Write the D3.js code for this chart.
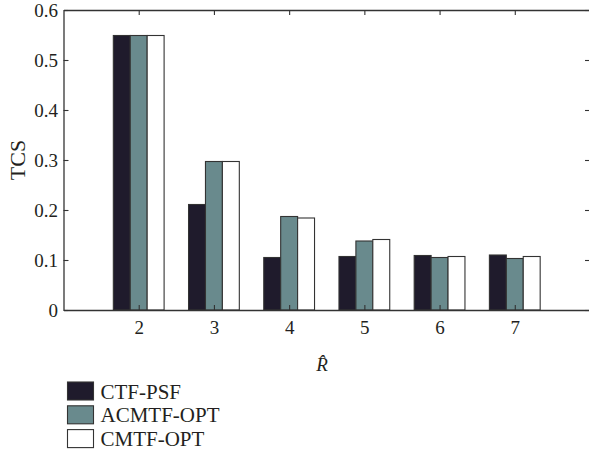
<!DOCTYPE html>
<html>
<head>
<meta charset="utf-8">
<script src="https://cdn.jsdelivr.net/npm/d3@7"></script>
<style>
  html, body { margin: 0; padding: 0; background: #fff; }
  svg { display: block; }
</style>
</head>
<body>
<svg id="chart" width="589" height="452"></svg>
<script>
// Rank values on the x axis
const ranks = [2, 3, 4, 5, 6, 7];
// TCS per method, one value per rank
const seriesNames = ["CTF-PSF", "ACMTF-OPT", "CMTF-OPT"];
const ctfPsf   = [0.549, 0.211, 0.105, 0.107, 0.109, 0.110];
const acmtfOpt = [0.549, 0.297, 0.187, 0.138, 0.105, 0.103];
const cmtfOpt  = [0.549, 0.297, 0.184, 0.141, 0.107, 0.107];
const seriesColors = ["#1f1b2c", "#698a8d", "#ffffff"];
const yTicks = [0, 0.1, 0.2, 0.3, 0.4, 0.5, 0.6];

const series = [ctfPsf, acmtfOpt, cmtfOpt];
const FONT = "'Liberation Serif', 'Times New Roman', Times, serif";
const INK = "#231f20";

const svg = d3.select("#chart");
const plotLeft = 63.5, plotRight = 590, plotTop = 10, plotBottom = 310;

const x = d3.scaleLinear().domain([1, 8]).range([plotLeft, plotRight]);
const y = d3.scaleLinear().domain([0, 0.6]).range([plotBottom, plotTop]);

const barW = 0.225;          // bar width in rank units
const groupStart = -1.5 * barW;

// Bars
series.forEach((vals, si) => {
  svg.append("g")
    .selectAll("rect")
    .data(ranks.map((r, i) => ({ r, v: vals[i] })))
    .join("rect")
    .attr("x", d => x(d.r + groupStart + si * barW))
    .attr("width", x(1 + barW) - x(1))
    .attr("y", d => y(d.v))
    .attr("height", d => y(0) - y(d.v))
    .attr("fill", seriesColors[si])
    .attr("stroke", "#333")
    .attr("stroke-width", 1.1);
});

// Box axes with inward ticks
const tickLen = 5;
const axisStyle = g => {
  g.attr("font-family", FONT);
  g.select(".domain").attr("stroke", "#333").attr("stroke-width", 1.3);
  g.selectAll(".tick line").attr("stroke", "#333").attr("stroke-width", 1.1);
  g.selectAll(".tick text").attr("font-size", 19).attr("font-family", FONT).attr("fill", INK);
};

svg.append("g")
  .attr("transform", `translate(0,${plotBottom})`)
  .call(d3.axisBottom(x).tickValues(ranks).tickFormat(d3.format("d"))
    .tickSizeInner(-tickLen).tickSizeOuter(0).tickPadding(10.5))
  .call(axisStyle);

svg.append("g")
  .attr("transform", `translate(0,${plotTop})`)
  .call(d3.axisTop(x).tickValues(ranks).tickFormat("")
    .tickSizeInner(-tickLen).tickSizeOuter(0))
  .call(axisStyle);

svg.append("g")
  .attr("transform", `translate(${plotLeft},0)`)
  .call(d3.axisLeft(y).tickValues(yTicks).tickFormat(d => d === 0 ? "0" : d3.format(".1f")(d))
    .tickSizeInner(-tickLen).tickSizeOuter(0).tickPadding(5.5))
  .call(axisStyle);

svg.append("g")
  .attr("transform", `translate(${plotRight},0)`)
  .call(d3.axisRight(y).tickValues(yTicks).tickFormat("")
    .tickSizeInner(-tickLen).tickSizeOuter(0))
  .call(axisStyle);

// Axis titles
svg.append("text")
  .attr("transform", `translate(25,${(plotTop + plotBottom) / 2}) rotate(-90)`)
  .attr("text-anchor", "middle")
  .attr("font-family", FONT)
  .attr("fill", INK)
  .attr("font-size", 22)
  .text("TCS");

svg.append("text")
  .attr("x", 322)
  .attr("y", 371)
  .attr("text-anchor", "middle")
  .attr("font-family", FONT)
  .attr("fill", INK)
  .attr("font-size", 19)
  .attr("font-style", "italic")
  .text("R\u0302");

// Legend
const legend = svg.append("g").attr("transform", "translate(67,382)");
seriesNames.forEach((name, i) => {
  const row = legend.append("g").attr("transform", `translate(0,${i * 23.8})`);
  row.append("rect")
    .attr("x", 0.5).attr("y", 0)
    .attr("width", 26).attr("height", 18)
    .attr("fill", seriesColors[i])
    .attr("stroke", "#333").attr("stroke-width", 1.1);
  row.append("text")
    .attr("x", 33.5).attr("y", 16.5)
    .attr("font-family", FONT)
    .attr("fill", INK)
    .attr("font-size", 21)
    .text(name);
});
</script>
</body>
</html>
